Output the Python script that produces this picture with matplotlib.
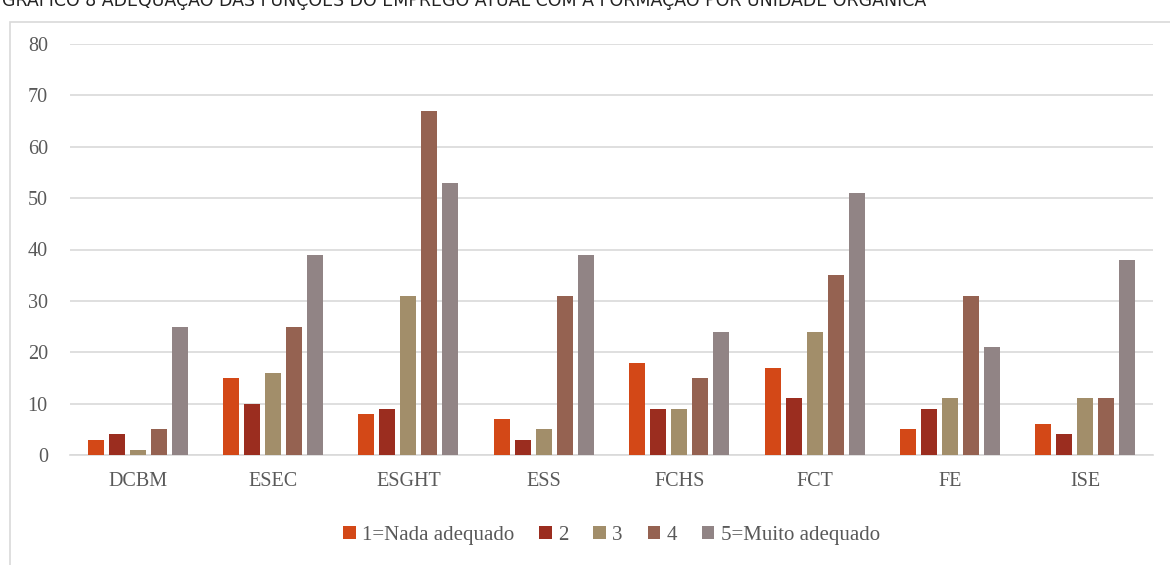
import matplotlib.pyplot as plt
import numpy as np
from matplotlib.patches import Rectangle

units = ["DCBM", "ESEC", "ESGHT", "ESS", "FCHS", "FCT", "FE", "ISE"]
series = ["1=Nada adequado", "2", "3", "4", "5=Muito adequado"]
values = [
    [3, 15, 8, 7, 18, 17, 5, 6],
    [4, 10, 9, 3, 9, 11, 9, 4],
    [1, 16, 31, 5, 9, 24, 11, 11],
    [5, 25, 67, 31, 15, 35, 31, 11],
    [25, 39, 53, 39, 24, 51, 21, 38],
]
colors = ["#D34817", "#9B2D1F", "#A28E6A", "#956251", "#918485"]
title = "GRÁFICO 8 ADEQUAÇÃO DAS FUNÇÕES DO EMPREGO ATUAL COM A FORMAÇÃO POR UNIDADE ORGÂNICA"

plt.rcParams["font.family"] = ["Liberation Serif", "DejaVu Serif"]

fig = plt.figure(figsize=(11.7, 5.65), dpi=100)
W, H = 1170, 565
ax = fig.add_axes([70 / W, 1 - 455 / H, (1153 - 70) / W, (455 - 44) / H])

# chart frame (partly cut off like the reference)
fig.patches.append(Rectangle((10 / W, -0.01), 1.0, 1 - 22 / H + 0.01,
                             transform=fig.transFigure, fill=False,
                             edgecolor="#D9D9D9", linewidth=1.2))
fig.text(2 / W, 1 + 1 / H, title, ha="left", va="center",
         fontsize=12.5, family="DejaVu Sans", color="#222222")

x = np.arange(len(units))
step = 0.155
width = 0.118
for i, (name, vals) in enumerate(zip(series, values)):
    ax.bar(x + (i - 2) * step, vals, width, color=colors[i], label=name,
           zorder=3)

ax.set_xlim(-0.5, len(units) - 0.5)
ax.set_ylim(0, 80)
ax.set_yticks(range(0, 81, 10))
ax.set_xticks(x)
ax.set_xticklabels(units)
ax.grid(axis="y", color="#D9D9D9", linewidth=1.2, zorder=0)
for s in ["top", "right", "left"]:
    ax.spines[s].set_visible(False)
ax.spines["bottom"].set_color("#D9D9D9")
ax.spines["bottom"].set_linewidth(1.2)
ax.tick_params(length=0, labelsize=14.5, colors="#595959")
ax.tick_params(axis="x", pad=12)
ax.tick_params(axis="y", pad=16)

ax.legend(loc="center", bbox_to_anchor=(0.5, -0.195), ncol=5, frameon=False,
          fontsize=15, handlelength=0.6, handleheight=0.6,
          handletextpad=0.3, columnspacing=1.2, labelcolor="#595959")

fig.savefig("out.png", dpi=100)
